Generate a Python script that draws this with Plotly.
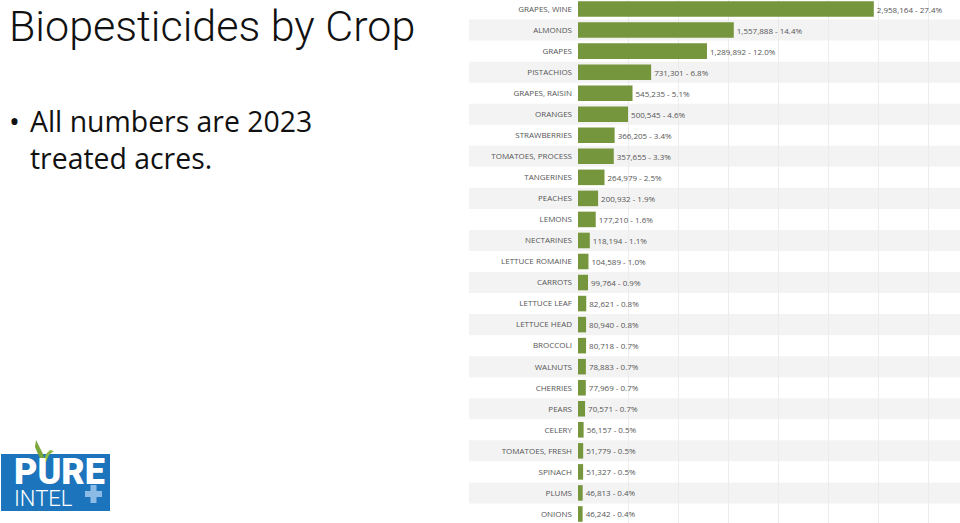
import plotly.graph_objects as go

crops = ["GRAPES, WINE", "ALMONDS", "GRAPES", "PISTACHIOS", "GRAPES, RAISIN", "ORANGES",
         "STRAWBERRIES", "TOMATOES, PROCESS", "TANGERINES", "PEACHES", "LEMONS", "NECTARINES",
         "LETTUCE ROMAINE", "CARROTS", "LETTUCE LEAF", "LETTUCE HEAD", "BROCCOLI", "WALNUTS",
         "CHERRIES", "PEARS", "CELERY", "TOMATOES, FRESH", "SPINACH", "PLUMS", "ONIONS"]
acres = [2958164, 1557888, 1289892, 731301, 545235, 500545, 366205, 357655, 264979, 200932,
         177210, 118194, 104589, 99764, 82621, 80940, 80718, 78883, 77969, 70571, 56157,
         51779, 51327, 46813, 46242]
pcts = [27.4, 14.4, 12.0, 6.8, 5.1, 4.6, 3.4, 3.3, 2.5, 1.9, 1.6, 1.1, 1.0, 0.9, 0.8, 0.8,
        0.7, 0.7, 0.7, 0.7, 0.5, 0.5, 0.5, 0.4, 0.4]

W, H = 960, 523
def px(x):
    return x / W
def py(y):
    return 1 - y / H

labels = [f"{v:,} - {p:.1f}%" for v, p in zip(acres, pcts)]

fig = go.Figure(go.Bar(
    x=acres, y=crops, orientation="h",
    marker=dict(color="#76963e", line=dict(width=0)),
    width=0.74,
    text=labels, textposition="outside", cliponaxis=False,
    textfont=dict(family="Open Sans", size=8, color="#555555"),
    hoverinfo="skip",
))

shapes = []
n = len(crops)
for i in range(n):
    if i % 2 == 1:
        shapes.append(dict(type="rect", xref="paper", yref="y",
                           x0=px(469), x1=1.0, y0=i - 0.5, y1=i + 0.5,
                           fillcolor="#f3f3f3", line=dict(width=0), layer="below"))

# logo
shapes.append(dict(type="rect", xref="paper", yref="paper", x0=px(1), x1=px(110),
                   y0=py(511), y1=py(454), fillcolor="#1c75bc", line=dict(width=0), layer="above"))
shapes.append(dict(type="rect", xref="paper", yref="paper", x0=px(85), x1=px(102),
                   y0=py(497), y1=py(491), fillcolor="#8cbbe6", line=dict(width=0), layer="above"))
shapes.append(dict(type="rect", xref="paper", yref="paper", x0=px(90.5), x1=px(96.5),
                   y0=py(503), y1=py(485), fillcolor="#8cbbe6", line=dict(width=0), layer="above"))
def path(pts):
    return "M " + " L ".join(f"{px(a):.5f},{py(b):.5f}" for a, b in pts) + " Z"
shapes.append(dict(type="path", xref="paper", yref="paper",
                   path=path([(42, 462), (38, 454), (35, 447), (36, 440), (39, 446), (43, 454), (45, 462)]),
                   fillcolor="#7aa63a", line=dict(width=0), layer="above"))
shapes.append(dict(type="path", xref="paper", yref="paper",
                   path=path([(43, 462), (46, 454), (50, 450), (54, 451), (49, 455), (46, 462)]),
                   fillcolor="#8fb848", line=dict(width=0), layer="above"))

txt = "#111111"
logo_text = ('<span style="font-size:36px;font-weight:900">PURE</span><br>'
             '<span style="font-size:22px;font-weight:300">INTEL</span>')
annotations = [
    dict(text="Biopesticides by Crop", x=px(8), y=1.0, xref="paper", yref="paper",
         xanchor="left", yanchor="top", showarrow=False, borderpad=0,
         font=dict(family="Roboto", size=43, color=txt, weight=300)),
    dict(text="•", x=px(7), y=py(120.5), xref="paper", yref="paper",
         xanchor="left", yanchor="middle", showarrow=False,
         font=dict(family="Open Sans", size=29, color=txt)),
    dict(text="All numbers are 2023<br>treated acres.", x=px(28), y=py(139.5), xref="paper", yref="paper",
         xanchor="left", yanchor="middle", align="left", showarrow=False,
         font=dict(family="Open Sans", size=28.4, color=txt)),
    dict(text=logo_text, x=px(13), y=py(450), xref="paper", yref="paper",
         xanchor="left", yanchor="top", align="left", showarrow=False, borderpad=0,
         font=dict(family="Roboto", size=17, color="#ffffff")),
]

fig.update_layout(
    width=W, height=H,
    margin=dict(l=0, r=0, t=0, b=0, pad=0),
    paper_bgcolor="#ffffff", plot_bgcolor="rgba(0,0,0,0)",
    showlegend=False,
    shapes=shapes, annotations=annotations,
    xaxis=dict(domain=[px(578), 1.0], range=[0, 3820000], dtick=500000, tick0=0,
               showgrid=True, gridcolor="#ececec", gridwidth=1, zeroline=False,
               showticklabels=False, showline=False, ticks="", automargin=False, fixedrange=True),
    yaxis=dict(domain=[0, 1], type="category", range=[n - 1 + 0.43, -0.43],
               showgrid=False, zeroline=False, showline=False, ticks="",
               ticklabelstandoff=5, automargin=False, fixedrange=True,
               tickfont=dict(family="Open Sans", size=8, color="#555555")),
)

fig.write_html("out.html", config={"displayModeBar": False})
